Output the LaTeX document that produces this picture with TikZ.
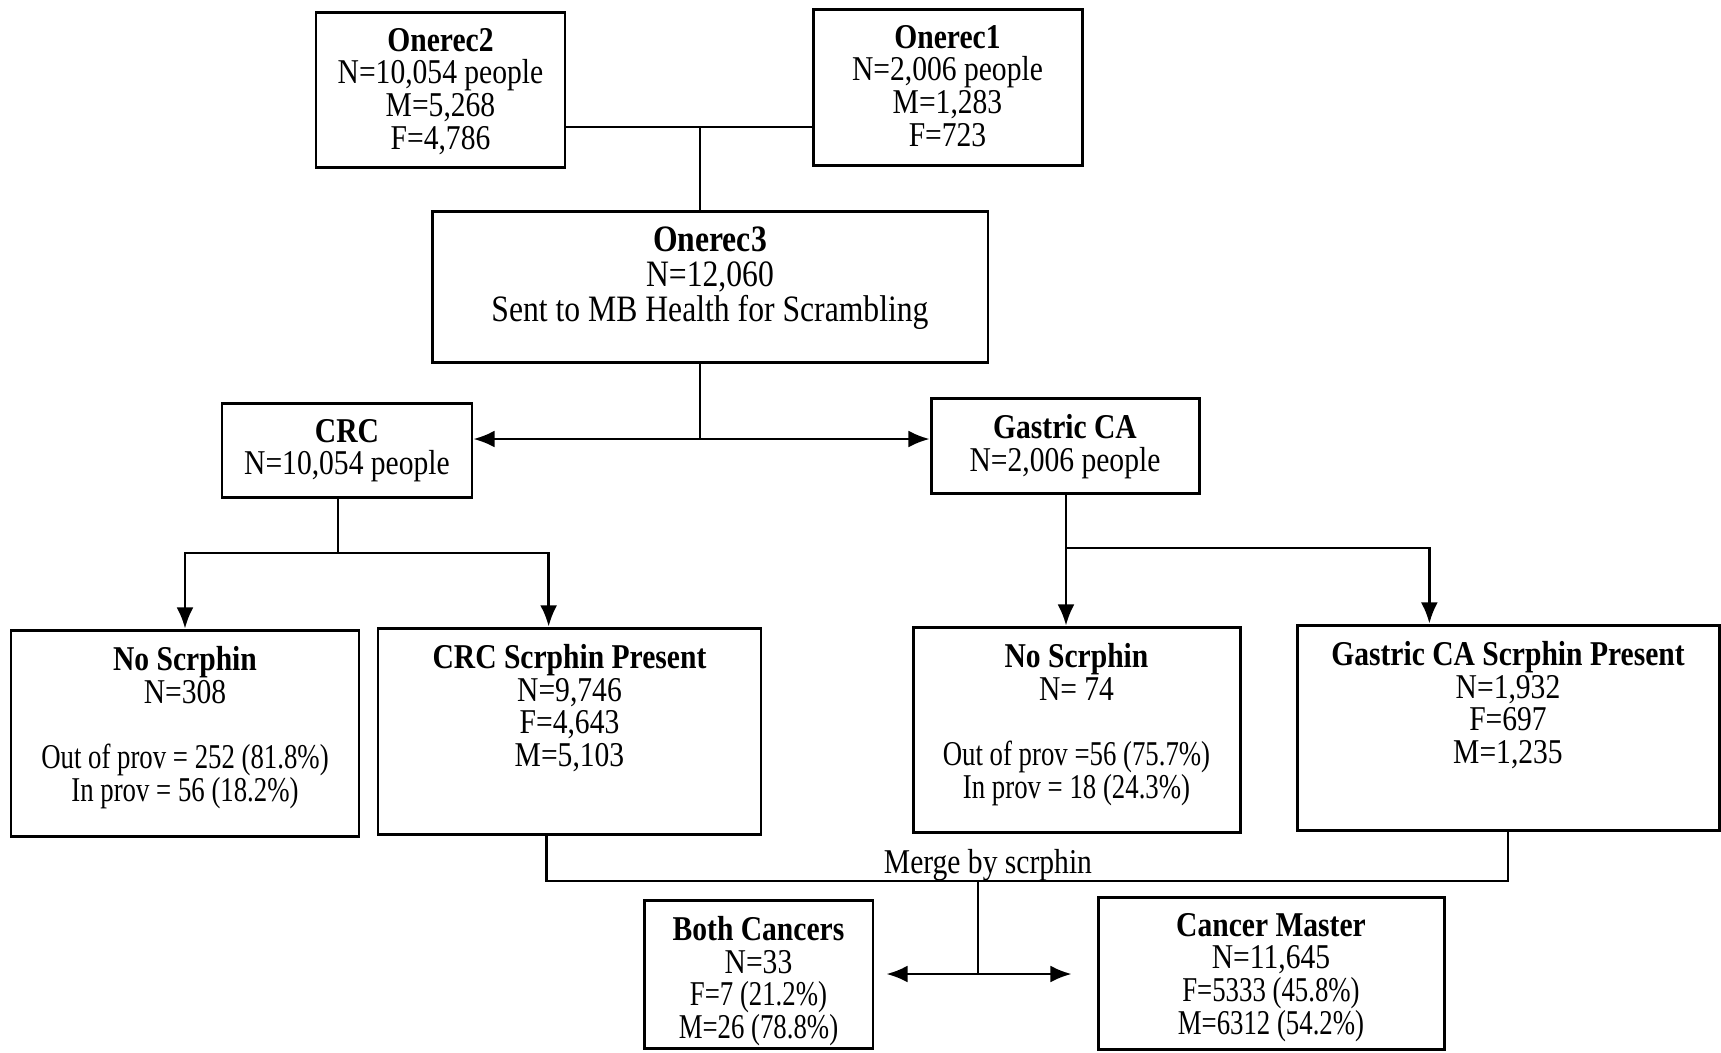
\documentclass[tikz,border=0pt]{standalone}
\usepackage{fontspec}
\setmainfont{Liberation Serif}[FakeStretch=0.85]
\newfontfamily\narrowfont{Liberation Serif}[FakeStretch=0.77]
\usetikzlibrary{arrows.meta,calc}

% top-aligned text inside a box of given width and height
\newcommand{\boxlines}[3]{\parbox[c][#2][t]{#1}{\centering\vspace*{4.6pt}#3}}

\begin{document}
\begin{tikzpicture}[x=0.1mm, y=-0.1mm,
    box/.style={draw, line width=0.85pt, inner sep=0pt, font=\fontsize{9.9}{9.3}\selectfont},
    bigbox/.style={box, font=\fontsize{10.6}{9.9}\selectfont},
    link/.style={line width=0.7pt},
    arrow/.style={link, -{Latex[length=6pt,width=4.8pt]}},
    twoway/.style={link, {Latex[length=6pt,width=4.8pt]}-{Latex[length=6pt,width=4.8pt]}}]

\useasboundingbox (0,0) rectangle (1721,1052);

% source files
\node[box] (onetwo) at (440.5,89.5) {\boxlines{24.9mm}{15.5mm}{\textbf{Onerec2}\\N=10,054 people\\M=5,268\\F=4,786}};
\node[box] (oneone) at (947.5,87) {\boxlines{26.9mm}{15.6mm}{\textbf{Onerec1}\\N=2,006 people\\M=1,283\\F=723}};
\node[bigbox] (onethree) at (710,286.5) {\boxlines{55.6mm}{15.1mm}{\textbf{Onerec3}\\N=12,060\\Sent to MB Health for Scrambling}};

% split by cancer
\node[box] (crc) at (347,450) {\boxlines{25mm}{9.4mm}{\textbf{CRC}\\N=10,054 people}};
\node[box] (gastric) at (1065,445.5) {\boxlines{26.8mm}{9.5mm}{\textbf{Gastric CA}\\N=2,006 people}};

\node[box] (crcno) at (185,733) {\boxlines{34.8mm}{20.6mm}{\textbf{No Scrphin}\\N=308\\[9.3pt]{\narrowfont Out of prov = 252 (81.8\%)}\\{\narrowfont In prov = 56 (18.2\%)}}};
\node[box] (crcyes) at (569.5,731) {\boxlines{38.3mm}{20.6mm}{\textbf{CRC Scrphin Present}\\N=9,746\\F=4,643\\M=5,103}};
\node[box] (gasno) at (1076.5,729.5) {\boxlines{32.7mm}{20.5mm}{\textbf{No Scrphin}\\N= 74\\[9.3pt]{\narrowfont Out of prov =56 (75.7\%)}\\{\narrowfont In prov = 18 (24.3\%)}}};
\node[box] (gasyes) at (1508,727.5) {\boxlines{42.2mm}{20.5mm}{\textbf{Gastric CA Scrphin Present}\\N=1,932\\F=697\\M=1,235}};

% merged
\node[box] (both) at (758.5,974) {\boxlines{22.9mm}{14.8mm}{\textbf{Both Cancers}\\N=33\\{\narrowfont F=7 (21.2\%)}\\{\narrowfont M=26 (78.8\%)}}};
\node[box] (master) at (1271,973) {\boxlines{34.6mm}{15.2mm}{\textbf{Cancer Master}\\N=11,645\\{\narrowfont F=5333 (45.8\%)}\\{\narrowfont M=6312 (54.2\%)}}};

\node[font=\fontsize{9.9}{9.3}\selectfont] (mergelabel) at (988,865) {Merge by scrphin};

\coordinate (topjoin) at (700,127);
\coordinate (split) at (700,439);
\coordinate (crcsplit) at (338,553);
\coordinate (gassplit) at (1066,548);
\coordinate (merge) at (978,881);
\coordinate (mergedown) at (978,974);

\draw[link] (onetwo.east |- topjoin) -- (oneone.west |- topjoin);
\draw[link] (topjoin) -- (topjoin |- onethree.north);

\draw[link] (split |- onethree.south) -- (split);
\draw[twoway] (crc.east |- split) -- (gastric.west |- split);

\draw[link] (crcsplit |- crc.south) -- (crcsplit);
\draw[arrow] (crcsplit) -| (crcno.north);
\draw[arrow] (crcsplit) -| ($(crcyes.north west)!0.446!(crcyes.north east)$);

\draw[arrow] (gassplit |- gastric.south) -- (gassplit |- gasno.north);
\draw[arrow] (gassplit) -| ($(gasyes.north west)!0.315!(gasyes.north east)$);

\draw[link] ($(crcyes.south west)!0.441!(crcyes.south east)$) |- (merge) -| (gasyes.south);
\draw[link] (merge) -- (mergedown);
\draw[twoway, shorten <=1.2mm, shorten >=2.5mm] (both.east |- mergedown) -- (master.west |- mergedown);

\end{tikzpicture}
\end{document}
